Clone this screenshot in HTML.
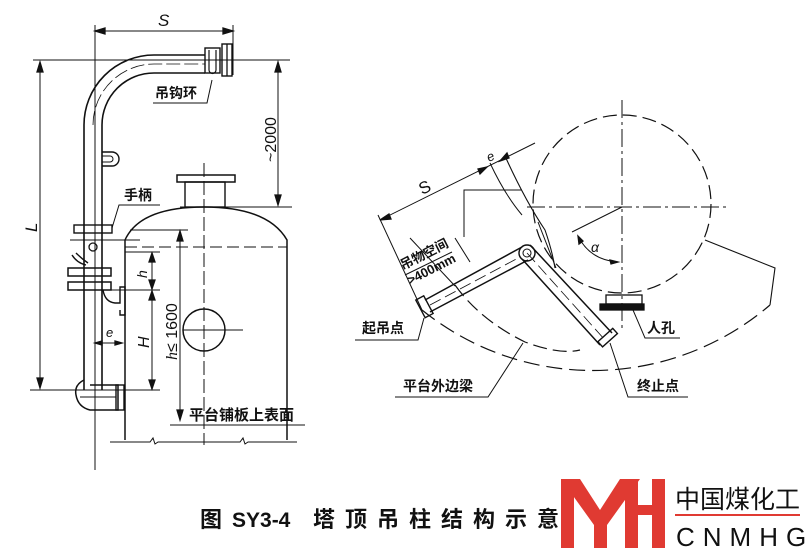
<!DOCTYPE html>
<html><head><meta charset="utf-8"><style>
body{margin:0;background:#fff;width:806px;height:555px;overflow:hidden}
svg{position:absolute;left:0;top:0}
text{font-family:"Liberation Sans","Noto Sans CJK SC",sans-serif;fill:#111}
</style></head><body>
<svg width="806" height="555" viewBox="0 0 806 555" stroke="#111" fill="none" stroke-width="1.3">
<line x1="95" y1="25" x2="95" y2="470" stroke-width="1"/>
<line x1="233" y1="25" x2="233" y2="75" stroke-width="1"/>
<line x1="95" y1="31" x2="233" y2="31" stroke-width="1"/>
<path d="M95 31 l10 -3 v6z M233 31 l-10 -3 v6z" fill="#111"/>
<text x="158" y="26" font-size="17" font-style="italic" stroke="none" font-family="Liberation Serif">S</text>
<line x1="33" y1="60" x2="290" y2="60" stroke-width="1"/>
<line x1="30" y1="390" x2="160" y2="390" stroke-width="1"/>
<line x1="40" y1="62" x2="40" y2="388" stroke-width="1"/>
<path d="M40 62 l-3 10 h6z M40 388 l-3 -10 h6z" fill="#111"/>
<text x="0" y="0" font-size="17" font-style="italic" stroke="none" font-family="Liberation Serif" transform="translate(37,232) rotate(-90)">L</text>
<line x1="278" y1="62" x2="278" y2="205" stroke-width="1"/>
<path d="M278 62 l-3 10 h6z M278 205 l-3 -10 h6z" fill="#111"/>
<line x1="180" y1="207" x2="292" y2="207" stroke-width="1"/>
<text font-size="16" stroke="none" transform="translate(276,162) rotate(-90)">~2000</text>
<path d="M84 390 V125 A70 70 0 0 1 154 55 H205" stroke-width="1.6"/>
<path d="M102 390 V125 A52 52 0 0 1 154 73 H205" stroke-width="1.6"/>
<path d="M93 125 A61 61 0 0 1 154 64 H205" stroke-dasharray="14 4" stroke-width="0.8"/>
<rect x="205" y="48" width="15" height="25" stroke-width="1.4"/>
<path d="M209 50 V70 A3 3 0 0 0 216 70 V50" stroke-width="1.2"/>
<rect x="222" y="44" width="10" height="32" stroke-width="1.4"/>
<line x1="227" y1="44" x2="227" y2="76"/>
<polyline points="212,80 207,103 153,103" stroke-width="1"/>
<text x="155" y="98" font-size="14" stroke="none" font-weight="bold">吊钩环</text>
<path d="M102 152 h10 a7 7 0 0 1 0 14 h-10" stroke-width="1.4"/>
<path d="M102 156 h8 a3 3 0 0 1 0 6 h-8" stroke-width="1"/>
<rect x="74" y="225" width="38" height="8" stroke-width="1.4"/>
<circle cx="93" cy="247" r="4"/>
<polyline points="112,228 119,205 160,205" stroke-width="1"/>
<text x="124" y="200" font-size="14" stroke="none" font-weight="bold">手柄</text>
<path d="M72 255 q5 8 14 10 M76 253 q6 6 12 10" stroke-width="1.4"/>
<rect x="68" y="268" width="43" height="8" stroke-width="1.5"/>
<rect x="68" y="282" width="43" height="8" stroke-width="1.5"/>
<path d="M103 290 q2 12 12 13 h5 v-16 h5 v28 h-5 v-5" stroke-width="1.4"/>
<line x1="70" y1="240" x2="140" y2="240" stroke-width="1"/>
<line x1="95" y1="343" x2="122" y2="343" stroke-width="1"/>
<path d="M95 343 l7 -2 v4z M122 343 l-7 -2 v4z" fill="#111"/>
<text x="106" y="337" font-size="13" font-style="italic" stroke="none" font-family="Liberation Serif">e</text>
<path d="M84 380 q-10 5 -8 15 q2 12 14 15 h28 v-25 h-28" stroke-width="1.5"/>
<rect x="116" y="385" width="8" height="25" stroke-width="1.4"/>
<line x1="80" y1="397" x2="116" y2="397" stroke-width="1"/>
<rect x="177" y="175" width="58" height="7" stroke-width="1.5"/>
<rect x="185" y="182" width="40" height="25" stroke-width="1.4"/>
<path d="M125 440 V240 Q140 207 204 207 Q268 207 287 240 V440" stroke-width="1.5"/>
<line x1="204" y1="163" x2="204" y2="445" stroke-dasharray="14 4" stroke-width="1"/>
<line x1="125" y1="247" x2="287" y2="247" stroke-dasharray="12 5" stroke-width="1"/>
<circle cx="204" cy="330" r="21" stroke-width="1.5"/>
<line x1="183" y1="330" x2="243" y2="330" stroke-width="1"/>
<line x1="125" y1="252" x2="160" y2="252" stroke-width="1"/>
<line x1="110" y1="290" x2="160" y2="290" stroke-width="1"/>
<line x1="152" y1="253" x2="152" y2="388" stroke-width="1"/>
<path d="M152 253 l-3 9 h6z M152 289 l-3 -9 h6z M152 291 l-3 9 h6z M152 389 l-3 -9 h6z" fill="#111"/>
<text font-size="14" font-style="italic" stroke="none" font-family="Liberation Serif" transform="translate(147,278) rotate(-90)">h</text>
<text font-size="16" font-style="italic" stroke="none" font-family="Liberation Serif" transform="translate(149,348) rotate(-90)">H</text>
<line x1="130" y1="230" x2="188" y2="230" stroke-width="1"/>
<line x1="180" y1="231" x2="180" y2="420" stroke-width="1"/>
<path d="M180 231 l-3 10 h6z M180 420 l-3 -10 h6z" fill="#111"/>
<text font-size="16" stroke="none" transform="translate(177,360) rotate(-90)"><tspan font-style="italic" font-family="Liberation Serif">h</tspan>≤ 1600</text>
<line x1="170" y1="425" x2="305" y2="425" stroke-width="1"/>
<text x="189" y="420" font-size="15" stroke="none" font-weight="bold">平台铺板上表面</text>
<path d="M110 442 H150 l3 -4 l2 6 l3 -2 H240 l3 -4 l2 6 l3 -2 H297" stroke-width="1"/>

<circle cx="622" cy="204" r="89" stroke-dasharray="14 6" stroke-width="1.2"/>
<line x1="622" y1="100" x2="622" y2="330" stroke-dasharray="18 4 3 4" stroke-width="1"/>
<line x1="527" y1="207" x2="728" y2="207" stroke-dasharray="18 4 3 4" stroke-width="1"/>
<path d="M422 310 A272 272 0 0 0 770 305" stroke-dasharray="16 7" stroke-width="1.2"/>
<polyline points="705,240 775,268 770,305" stroke-width="1.1"/>
<path d="M455 285 Q480 320 525 342 Q560 355 580 350" stroke-dasharray="14 6" stroke-width="1.2"/>
<path d="M490 163 Q505 195 522 215" stroke-width="1"/>
<path d="M505 156 Q525 200 545 230 Q552 250 555 268" stroke-width="1.1"/>
<path d="M538 222 L556 268" stroke-width="1"/>
<line x1="380" y1="220" x2="535" y2="143" stroke-width="1"/>
<path d="M380 220 l9 -6 l2 5z M487 167 l-9 2 l2 5z M500 161 l9 -3 l-2 -5z" fill="#111"/>
<line x1="378" y1="215" x2="422" y2="310" stroke-width="1"/>
<text x="0" y="0" font-size="17" stroke="none" font-family="Liberation Serif" transform="translate(422,195) rotate(-25)">S</text>
<text x="0" y="0" font-size="13" font-style="italic" stroke="none" font-family="Liberation Serif" transform="translate(489,162) rotate(-25)">e</text>
<polyline points="464,237 464,190 522,190" stroke-width="1"/>
<line x1="410" y1="238" x2="455" y2="286" stroke-width="1"/>
<line x1="455" y1="238" x2="470" y2="262" stroke-width="1"/>
<text x="0" y="0" font-size="13" stroke="none" font-weight="bold" transform="translate(403,270) rotate(-27)">吊物空间</text>
<text x="0" y="0" font-size="13" stroke="none" font-weight="bold" transform="translate(410,285) rotate(-27)">&gt;400mm</text>
<line x1="405" y1="275" x2="452" y2="252" stroke-width="1"/>
<path d="M425 300 L522 247 M430 312 L528 260" stroke-width="1.5"/>
<line x1="430" y1="305" x2="520" y2="257" stroke-dasharray="12 5" stroke-width="0.8"/>
<rect x="420" y="297" width="9" height="20" transform="rotate(-28 424 307)" stroke-width="1.4"/>
<circle cx="527" cy="253" r="8" stroke-width="1.4"/>
<circle cx="527" cy="253" r="4" stroke-width="1"/>
<path d="M530 245 L612 333 M522 259 L600 345" stroke-width="1.5"/>
<line x1="527" y1="253" x2="605" y2="340" stroke-dasharray="12 5" stroke-width="0.8"/>
<rect x="598" y="334" width="20" height="7" transform="rotate(-42 608 338)" stroke-width="1.4"/>
<line x1="622" y1="207" x2="572" y2="232" stroke-width="1"/>
<path d="M578 236 Q590 260 618 262" stroke-width="1"/>
<path d="M578 236 l1 8 l4 -3z M618 262 l-8 -2 l1 4z" fill="#111"/>
<text x="591" y="252" font-size="14" font-style="italic" stroke="none" font-family="Liberation Serif">α</text>
<rect x="606" y="295" width="36" height="9" stroke-width="1.3"/>
<rect x="600" y="304" width="44" height="6" fill="#111"/>
<polyline points="633,310 645,338 680,338" stroke-width="1"/>
<text x="647" y="333" font-size="14" stroke="none" font-weight="bold">人孔</text>
<polyline points="424,318 418,340 355,340" stroke-width="1"/>
<text x="362" y="333" font-size="14" stroke="none" font-weight="bold">起吊点</text>
<polyline points="523,343 488,397 395,397" stroke-width="1"/>
<text x="403" y="391" font-size="14" stroke="none" font-weight="bold">平台外边梁</text>
<polyline points="610,343 628,397 688,397" stroke-width="1"/>
<text x="637" y="391" font-size="14" stroke="none" font-weight="bold">终止点</text>

<text x="200" y="527" font-size="22" stroke="none" font-weight="bold">图</text>
<text x="232" y="527" font-size="21" stroke="none" font-weight="bold" font-family="Liberation Mono,monospace">SY3-4</text>
<text x="313" y="527" font-size="22" stroke="none" font-weight="bold" letter-spacing="10">塔顶吊柱结构示意</text>
<g fill="#e03a32" stroke="none">
<rect x="561" y="479" width="13" height="69"/>
<polygon points="561,479 580,479 600,510 620,479 640,479 607,525 607,548 594,548 594,525"/>
<rect x="625" y="479" width="13" height="69"/>
<rect x="625" y="505" width="40" height="10"/>
<rect x="652" y="479" width="13" height="69"/>
<rect x="675" y="514" width="125" height="2"/>
</g>
<text x="675" y="508" font-size="25" stroke="none" fill="#444">中国煤化工</text>
<text x="676" y="546" font-size="26" stroke="none" fill="#555" letter-spacing="8">CNMHG</text>
</svg>
</body></html>
